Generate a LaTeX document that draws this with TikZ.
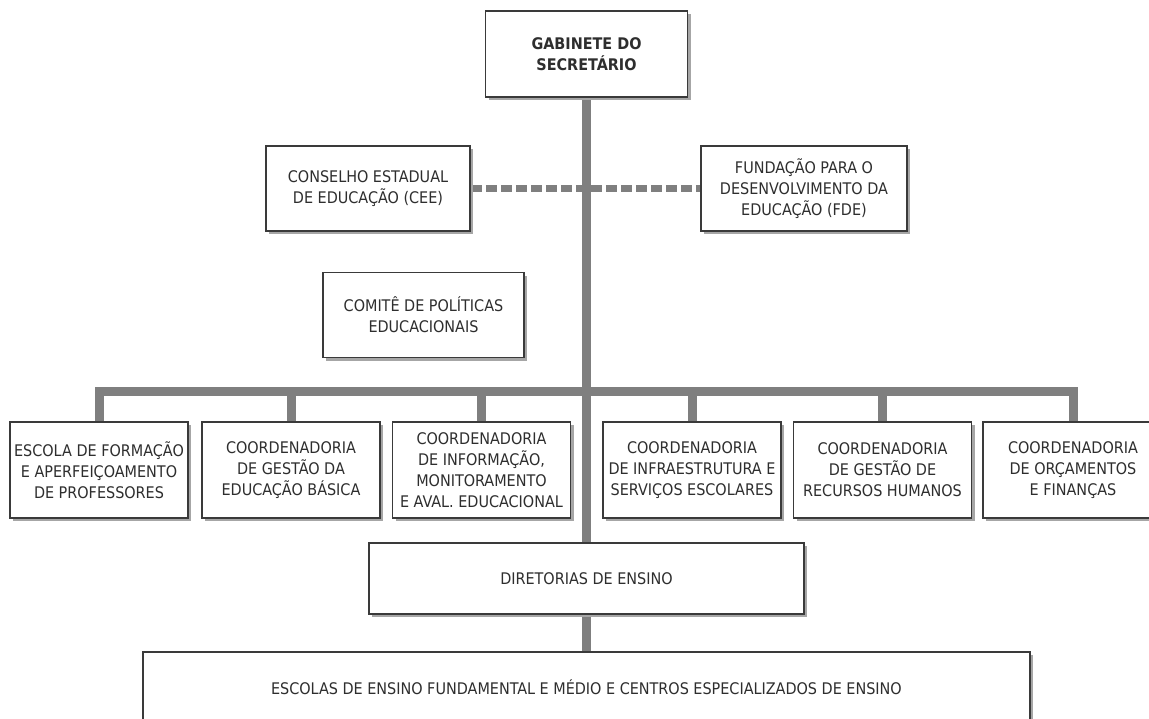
\documentclass[tikz,border=0pt]{standalone}
\usepackage{fontspec}
\setmainfont{DejaVu Sans Condensed}
\usetikzlibrary{shadows,backgrounds}
\definecolor{busgray}{HTML}{7F7F7F}
\definecolor{txtgray}{HTML}{2E2E2E}
\definecolor{edgegray}{HTML}{3A3A3A}
\tikzset{
  orgbox/.style={draw=edgegray, line width=1.6pt, fill=white, text=txtgray,
    align=center, inner sep=2pt, font=\fontsize{16}{21}\selectfont,
    drop shadow={shadow xshift=3pt, shadow yshift=-3pt, fill=black!35, opacity=1}},
  bus/.style={draw=busgray, line width=9pt, line join=miter},
  dashline/.style={draw=busgray, line width=7pt, dash pattern=on 11pt off 4pt}
}
\begin{document}
\begin{tikzpicture}[x=1pt,y=-1pt]
\useasboundingbox (0,0) rectangle (1149,718);
\node[orgbox, minimum width=202pt, minimum height=86pt, font=\bfseries\fontsize{16}{21}\selectfont] (gab) at (586.5,54) {GABINETE DO\\SECRETÁRIO};
\node[orgbox, minimum width=204pt, minimum height=85pt] (cee) at (368,188.5) {CONSELHO ESTADUAL\\DE EDUCAÇÃO (CEE)};
\node[orgbox, minimum width=206pt, minimum height=85pt] (fde) at (804,188.5) {FUNDAÇÃO PARA O\\DESENVOLVIMENTO DA\\EDUCAÇÃO (FDE)};
\node[orgbox, minimum width=201pt, minimum height=85pt] (com) at (423.5,315) {COMITÊ DE POLÍTICAS\\EDUCACIONAIS};
\node[orgbox, minimum width=178pt, minimum height=96pt] (b1) at (99,470) {ESCOLA DE FORMAÇÃO\\E APERFEIÇOAMENTO\\DE PROFESSORES};
\node[orgbox, minimum width=178pt, minimum height=96pt] (b2) at (291,470) {COORDENADORIA\\DE GESTÃO DA\\EDUCAÇÃO BÁSICA};
\node[orgbox, minimum width=178pt, minimum height=96pt] (b3) at (481.5,470) {COORDENADORIA\\DE INFORMAÇÃO,\\MONITORAMENTO\\E AVAL. EDUCACIONAL};
\node[orgbox, minimum width=178pt, minimum height=96pt] (b4) at (692,470) {COORDENADORIA\\DE INFRAESTRUTURA E\\SERVIÇOS ESCOLARES};
\node[orgbox, minimum width=178pt, minimum height=96pt] (b5) at (882.5,470) {COORDENADORIA\\DE GESTÃO DE\\RECURSOS HUMANOS};
\node[orgbox, minimum width=180pt, minimum height=96pt] (b6) at (1073,470) {COORDENADORIA\\DE ORÇAMENTOS\\E FINANÇAS};
\node[orgbox, minimum width=435pt, minimum height=71pt] (dir) at (586.5,578.5) {DIRETORIAS DE ENSINO};
\node[orgbox, minimum width=887pt, minimum height=70pt] (esc) at (586.5,687) {ESCOLAS DE ENSINO FUNDAMENTAL E MÉDIO E CENTROS ESPECIALIZADOS DE ENSINO};
\coordinate (busy) at (0,391);
\begin{scope}[on background layer]
\draw[bus] (gab.south) -- (dir.north);
\draw[bus] (dir.south) -- (esc.north);
\draw[bus] (b1.north) -- (b1.north |- busy) -- (b6.north |- busy) -- (b6.north);
\draw[bus] (b2.north) -- (b2.north |- busy);
\draw[bus] (b3.north) -- (b3.north |- busy);
\draw[bus] (b4.north) -- (b4.north |- busy);
\draw[bus] (b5.north) -- (b5.north |- busy);
\draw[dashline] (cee.east) -- (fde.west);
\end{scope}
\end{tikzpicture}
\end{document}
